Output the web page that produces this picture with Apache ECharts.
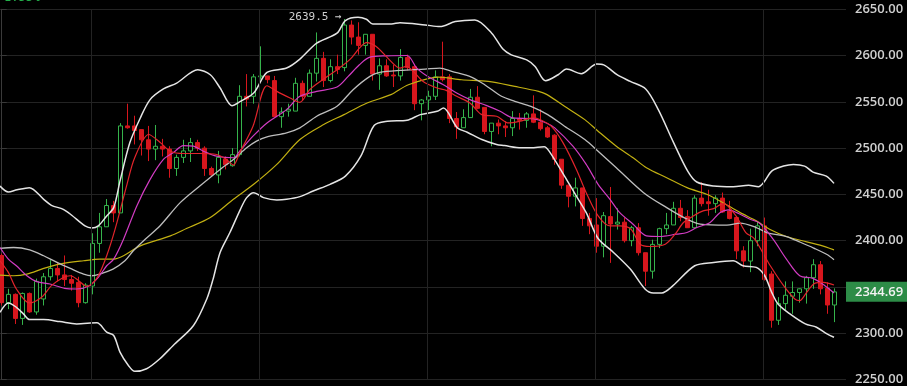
<!DOCTYPE html>
<html>
<head>
<meta charset="utf-8">
<script src="https://cdn.jsdelivr.net/npm/echarts@6/dist/echarts.min.js"></script>
<style>
html,body{margin:0;padding:0;background:#000;}
#chart{width:907px;height:386px;}
</style>
</head>
<body>
<div id="chart"></div>
<script>
// ---- data ----
const candleIndex = Array.from({length: 120}, (_, i) => i);
const opens = [2384,2333,2342,2316,2343,2323,2337,2361,2370,2363, 2358,2355,2333,2351,2397,2415,2438,2430,2524,2524,
  2520,2509,2499,2502,2499,2478,2490,2497,2506,2500, 2478,2471,2488,2481,2493,2556,2556,2577,2578,2573,
  2534,2540,2540,2570,2556,2581,2597,2573,2588,2587, 2633,2620,2611,2623,2580,2589,2579,2578,2598,2588,
  2548,2552,2556,2577,2577,2532,2522,2533,2555,2544, 2518,2527,2524,2522,2532,2530,2537,2528,2522,2514,
  2488,2460,2448,2457,2424,2417,2394,2426,2418,2420, 2400,2414,2387,2367,2396,2413,2417,2435,2426,2414,
  2446,2442,2440,2446,2432,2425,2389,2378,2400,2416, 2364,2314,2332,2340,2344,2348,2360,2374,2348.5,2330.5];
const closes = [2333,2342,2316,2343,2323,2356,2361,2370,2363,2358, 2354,2333,2352,2397,2415,2438,2430,2524,2522,2519,
  2509,2499,2502,2499,2478,2490,2497,2506,2500,2478, 2471,2490,2482,2493,2556,2553,2577,2578,2574,2534,
  2539,2542,2570,2556,2581,2597,2573,2588,2585,2633, 2620,2611,2623,2580,2589,2578,2578,2598,2587,2548,
  2552,2556,2577,2574,2532,2523,2533,2555,2543,2518, 2527,2524,2522,2532,2530,2537,2528,2521,2512,2488,
  2460,2448,2457,2424,2416,2394,2427,2418,2420,2400, 2414,2387,2367,2396,2413,2417,2435,2425,2414,2446,
  2440,2440,2446,2431,2424,2389,2378,2400,2416,2358, 2314,2332,2341,2344,2348,2360,2374,2348,2330.5,2344.69];
const lows = [2330,2326,2310,2309,2322,2320,2330,2357,2356,2351, 2346,2328,2332,2342,2387,2415,2420,2430,2521,2504,
  2492,2486,2487,2491,2468,2470,2484,2485,2497,2470, 2470,2462,2477,2480,2491,2545,2548,2574,2570,2534,
  2522,2534,2540,2552,2556,2572,2566,2571,2580,2583, 2612,2601,2601,2573,2563,2577,2566,2573,2584,2541,
  2530,2541,2552,2572,2527,2510,2522,2533,2542,2515, 2502,2515,2512,2513,2520,2522,2527,2519,2511,2482,
  2456,2436,2437,2416,2407,2387,2382,2376,2412,2398, 2394,2384,2351,2359,2392,2407,2417,2421,2414,2414,
  2437,2427,2430,2430,2423,2380,2371,2366,2394,2357, 2306,2309,2325,2321,2333,2332,2348,2342,2321,2312];
const highs = [2386,2348,2343,2344,2344,2359,2365,2379,2377,2384, 2363,2361,2354,2408,2430,2445,2443,2527,2548,2535,
  2520,2524,2525,2510,2502,2493,2509,2511,2509,2502, 2480,2497,2491,2500,2568,2580,2580,2610,2578,2578,
  2544,2548,2576,2573,2585,2625,2604,2596,2601,2639.5, 2638,2636,2623,2623,2597,2596,2590,2607,2601,2590,
  2553,2562,2584,2615,2580,2539,2542,2564,2567,2544, 2527,2531,2529,2540,2538,2539,2557,2542,2524,2515,
  2488,2460,2468,2457,2430,2446,2431,2458,2435,2425, 2416,2419,2387,2401,2414,2430,2442,2444,2433,2449,
  2463,2455,2449,2452,2443,2425,2394,2413,2421,2425, 2367,2339,2356,2356,2348.5,2362,2380,2378,2355,2348.5];

// indicator lines as [candle position, price]
const bollUpper = [[-0.24,2459],[0.95,2452.6],[2.2,2455],[3.95,2457.3],[6,2444.7],[7.1,2438.2],[8.8,2433.9],[10,2427.5],[11.9,2416],[12.85,2413.8],[13.8,2416],[15,2426.7],[16,2435.7],[16.9,2464.4],[18.3,2505.7],[19.8,2532.6],[21.2,2552.4],[23.1,2563.9],[25,2570.3],[28,2584.7],[29.8,2579.3],[31.2,2565],[32.9,2545.9],[34.1,2550.6],[36,2559.5],[37.9,2581.8],[40.7,2586.5],[42.6,2596.2],[45,2613.4],[47.9,2624.2],[49.1,2637.8],[50.9,2641.4],[52.1,2639.2],[53,2634.2],[55.7,2634.2],[56.9,2635.6],[60.5,2633.1],[62.6,2631.3],[64.8,2636.7],[67.6,2638.5],[70,2624.2],[71.6,2607],[72.8,2600.8],[75,2595.4],[76.2,2588.3],[77.7,2572.8],[79.5,2579.3],[80.7,2585.4],[82.8,2580.4],[85,2590.8],[86,2590],[87.9,2579.3],[89.8,2572.1],[92,2563.9],[93.8,2541.6],[96,2505.7],[98,2475.2],[99.3,2463.4],[101.7,2459.1],[104.5,2458.3],[106.7,2459.8],[108.1,2458.3],[108.9,2463.4],[110,2475.2],[111.7,2480.6],[113.1,2482.4],[114.7,2480.6],[115.9,2474.1],[117.8,2469.8],[118.9,2461.9]];
const bollMid = [[-0.24,2391.6],[1.7,2392.6],[4,2390.1],[6,2383.7],[7.9,2376.5],[9.8,2370],[11.7,2363.9],[12.85,2362.1],[14,2363.9],[15.9,2369.3],[17.6,2378.3],[18.8,2389.1],[20.5,2401.6],[22.6,2415.9],[25.5,2441.1],[28.3,2459.1],[31.2,2477],[33.1,2487.8],[35,2500.3],[36.4,2507.5],[37.9,2512.2],[40.7,2516.5],[42.6,2521.9],[45,2534.4],[47.9,2545.2],[50.2,2563.1],[52.6,2577.5],[54,2581.8],[56.9,2584],[60.5,2585.4],[62.6,2586.5],[64.3,2582.9],[67.1,2576.8],[69,2568.5],[71.4,2556],[73.3,2550.6],[75.6,2545.2],[78,2536.2],[80.4,2523.7],[83.3,2509.3],[85.2,2496.7],[87.8,2478.8],[91.7,2451.9],[95,2435.7],[97.9,2423.2],[99.8,2417.8],[103.6,2416.7],[105.5,2418.9],[107.8,2414.2],[109.3,2408.8],[112.1,2404.5],[114.1,2398.3],[116,2392],[117.9,2385],[118.9,2379.4]];
const bollLower = [[-0.24,2322.6],[0.95,2332.7],[2.1,2328],[3.1,2320.9],[4,2314.7],[6,2314.7],[8.3,2312.6],[10.7,2310.1],[13.6,2311.2],[15,2301.1],[16,2297.5],[16.9,2279.6],[18.1,2265.2],[19,2258.8],[20.7,2261.6],[22.6,2272.4],[24.5,2286.8],[27.4,2308.3],[29.3,2337],[30.2,2358.5],[31.2,2387.3],[32.6,2408.8],[34.1,2433.9],[35,2446.5],[36,2451.9],[37.4,2446.5],[39.3,2444],[40.7,2444.7],[42.6,2447.6],[44.5,2453.7],[46.9,2460.9],[49.1,2469.8],[51.3,2491.3],[53.2,2524.4],[55.1,2529],[57.9,2530.1],[59.8,2536.2],[62.2,2539.8],[63.1,2543.4],[65.1,2521.9],[66.5,2517.2],[68.6,2509.3],[70.7,2503.9],[71.8,2502.8],[74.2,2500.3],[75.6,2500.3],[77.5,2501.4],[78.2,2496.7],[80.4,2469.8],[81.8,2451.9],[83.5,2430.3],[85.2,2402.3],[87.4,2387.3],[89.8,2369.3],[91.9,2347.8],[93.1,2343.5],[94.3,2343.5],[95.9,2351.4],[99,2372.9],[101.7,2376.5],[104.5,2378.3],[105.9,2372.9],[107.8,2371.1],[109,2362.1],[110,2344.2],[110.9,2331.6],[112.6,2320.9],[114.8,2310.1],[116.4,2306.5],[117.9,2299.3],[118.9,2295.7]];
const maYellow = [[-0.24,2362.8],[1.7,2362.1],[3.6,2363.9],[6,2370],[8.3,2374.7],[11.7,2378.3],[14,2380.1],[16,2380.1],[17.4,2383.7],[19.8,2394.4],[24.1,2405.2],[26.4,2413.1],[29.8,2425],[33.1,2444.7],[36,2460.9],[39.3,2482.4],[42.6,2509.3],[46,2525.5],[48.9,2536.2],[52.2,2548.8],[55.6,2557.8],[58.1,2568.5],[62.4,2576.8],[65.7,2573.9],[69.5,2572.1],[73.3,2566.7],[76.7,2561.3],[77.9,2557.8],[80.4,2545.2],[83.3,2530.8],[85.2,2518.3],[87.8,2502.1],[90.2,2489.6],[92.1,2478.8],[95,2468],[97.9,2457.3],[100.7,2450.1],[102.6,2442.9],[105.5,2430.3],[107.8,2421.4],[109.7,2412.4],[112.1,2404.5],[115,2398.7],[116.9,2395.2],[118.9,2390.1]];
const ma10 = [[-0.24,2392.6],[0.95,2380.1],[2.1,2372.9],[3.6,2362.1],[5,2355.7],[6.9,2353.2],[9,2348.5],[10.7,2347.8],[12.4,2350.7],[13.8,2360.3],[15,2372.9],[16,2380.1],[17.4,2401.6],[19.3,2437.5],[21.2,2466.2],[23.1,2487.8],[24.5,2495],[25.95,2502.8],[27.4,2502.1],[28.8,2496.7],[30.7,2491.3],[33.1,2489.6],[34,2496.7],[35.9,2512.9],[37.9,2527.2],[40.7,2541.6],[42.6,2556],[45,2561.3],[47.9,2566],[49.5,2577.5],[51.1,2590.1],[52.6,2598.3],[55,2599.7],[57.9,2600.1],[59.3,2586.5],[61,2576.8],[63.1,2568.5],[65,2559.5],[66.9,2552.4],[69.3,2545.9],[71.2,2539.8],[73.1,2532.6],[75.9,2531.9],[77.8,2527.2],[79,2521.9],[81.6,2502.1],[83.5,2482.4],[85.2,2460.9],[86.9,2444.7],[88.3,2430.3],[90.2,2417.8],[92.1,2405.2],[94,2404.5],[96.4,2407],[97.9,2408.8],[99.3,2414.2],[101.2,2419.6],[102.6,2430.3],[103.8,2433.2],[105,2430.3],[106.9,2423.2],[108.3,2418.9],[110.2,2401.6],[112.1,2380.1],[114,2362.1],[115.9,2359.3],[117.6,2351.4],[118.9,2343.5]];
const ma5 = [[-0.24,2378.3],[0.95,2365.7],[2.1,2347.8],[3.95,2332.7],[5.7,2338.8],[7.1,2351.4],[8.8,2360.3],[9.8,2362.1],[11,2356.8],[12.1,2350.7],[12.85,2353],[13.8,2362.1],[15,2383.7],[16.2,2412.4],[17.9,2460.9],[19,2489.6],[21,2514.7],[22.6,2506.4],[24.1,2496.7],[25.95,2494.2],[28.3,2494.2],[30.7,2493.1],[32.1,2487.8],[33.1,2481.7],[34,2495],[35.9,2523.7],[37.9,2567.4],[39.3,2561.3],[41.2,2554.2],[42.6,2549.5],[44,2563.1],[46,2574.6],[47.9,2584.7],[49.8,2596.2],[51.1,2608],[52.1,2614.1],[53.5,2609.8],[55.4,2595.4],[56.9,2586.5],[57.8,2588.3],[58.8,2582.9],[60.2,2572.1],[62.2,2564.9],[63.5,2562.4],[65,2556],[66.9,2548.8],[68.6,2536.2],[70.7,2534.4],[72.4,2527.2],[74,2529],[75.9,2532.6],[77.1,2530.1],[78.5,2523.7],[80.2,2505.7],[82.1,2477],[83.5,2451.9],[85.2,2426.7],[86.9,2415.9],[88.3,2415.9],[89.9,2412.4],[91.2,2396.2],[92.6,2393.7],[94.8,2396.2],[96.2,2407],[97.4,2419.6],[98.8,2426.7],[100.2,2432.2],[101.7,2434.6],[103.1,2440.4],[104.9,2426.7],[106.3,2408.8],[107.5,2402.3],[108.7,2387.3],[109.8,2372.9],[111.7,2351.4],[113.3,2337],[114,2335.2],[115,2344.2],[116.2,2354.2],[117.4,2355],[118.9,2352.1]];

const dayBreaks = [12.83, 36.83, 60.83, 84.83, 108.83];
const yTicks = {min: 2250, max: 2650, step: 50};
const changeText = '1.53%';

// ---- chart ----
const lastPrice = closes[closes.length - 1];
let maxIdx = 0;
highs.forEach((h, i) => { if (h > highs[maxIdx]) maxIdx = i; });

const chart = echarts.init(document.getElementById('chart'), null, {renderer: 'canvas'});

function lineSeries(name, data, color, width, z) {
  return {
    name, type: 'line', data, showSymbol: false, symbol: 'none', smooth: 0.3,
    lineStyle: {color, width}, z: z || 3, silent: true
  };
}

chart.setOption({
  backgroundColor: '#000',
  animation: false,
  grid: {left: 0, right: 61, top: 9.3, bottom: 5, containLabel: false},
  xAxis: {
    type: 'value', min: -0.243, max: 120.614,
    show: false, splitLine: {show: false}
  },
  yAxis: {
    type: 'value', position: 'right',
    min: yTicks.min, max: yTicks.max, interval: yTicks.step,
    axisLine: {show: true, lineStyle: {color: '#3a3a3a', width: 1}},
    axisTick: {show: true, length: 5, lineStyle: {color: '#3a3a3a'}},
    axisLabel: {
      margin: 9, color: '#cfcfcf', fontSize: 13, fontWeight: 600,
      fontFamily: 'Open Sans', formatter: v => v.toFixed(2)
    },
    splitLine: {show: true, lineStyle: {color: '#232323', width: 1}}
  },
  graphic: [{
    type: 'text', left: 4, top: -8,
    style: {text: changeText, fill: '#22b04a', font: '12px "DejaVu Sans Mono"'}
  }],
  series: [
    {
      name: 'grid', type: 'line', data: [], z: 1, silent: true,
      markLine: {
        silent: true, symbol: 'none', animation: false,
        lineStyle: {color: '#232323', width: 1, type: 'solid'},
        label: {show: false},
        data: dayBreaks.map(v => ({xAxis: v}))
      }
    },
    {
      name: 'K', type: 'candlestick',
      data: candleIndex.map(i => [i, opens[i], closes[i], lows[i], highs[i]]),
      encode: {x: 0, y: [1, 2, 3, 4]},
      barWidth: 5, z: 2,
      itemStyle: {
        color: '#000', color0: '#d7161d',
        borderColor: '#35b34b', borderColor0: '#d7161d', borderWidth: 1
      },
      markPoint: {
        symbol: 'circle', symbolSize: 0, silent: true,
        data: [{coord: [maxIdx, highs[maxIdx]], value: highs[maxIdx]}],
        label: {
          show: true, position: 'left', distance: 3, offset: [0, -2],
          formatter: p => p.value + ' →',
          color: '#cfcfcf', fontSize: 11, fontFamily: 'DejaVu Sans Mono'
        }
      },
      markLine: {
        silent: true, symbol: 'none',
        lineStyle: {color: 'rgba(0,0,0,0)', width: 0},
        data: [{yAxis: lastPrice}],
        label: {
          show: true, position: 'end', distance: 0,
          formatter: () => lastPrice.toFixed(2),
          backgroundColor: '#2d8c47', color: '#f2f2f2',
          fontSize: 13, fontWeight: 600, fontFamily: 'Open Sans',
          padding: [3, 6, 3, 9], lineHeight: 14
        }
      }
    },
    lineSeries('MA30', maYellow, '#c2b012', 1.2),
    lineSeries('BOLL-UP', bollUpper, '#e4e4e4', 1.5),
    lineSeries('BOLL-MID', bollMid, '#bdbdbd', 1.3),
    lineSeries('BOLL-LOW', bollLower, '#e4e4e4', 1.5),
    lineSeries('MA10', ma10, '#d23cc3', 1.2),
    lineSeries('MA5', ma5, '#e2242b', 1.2)
  ]
});
</script>
</body>
</html>
